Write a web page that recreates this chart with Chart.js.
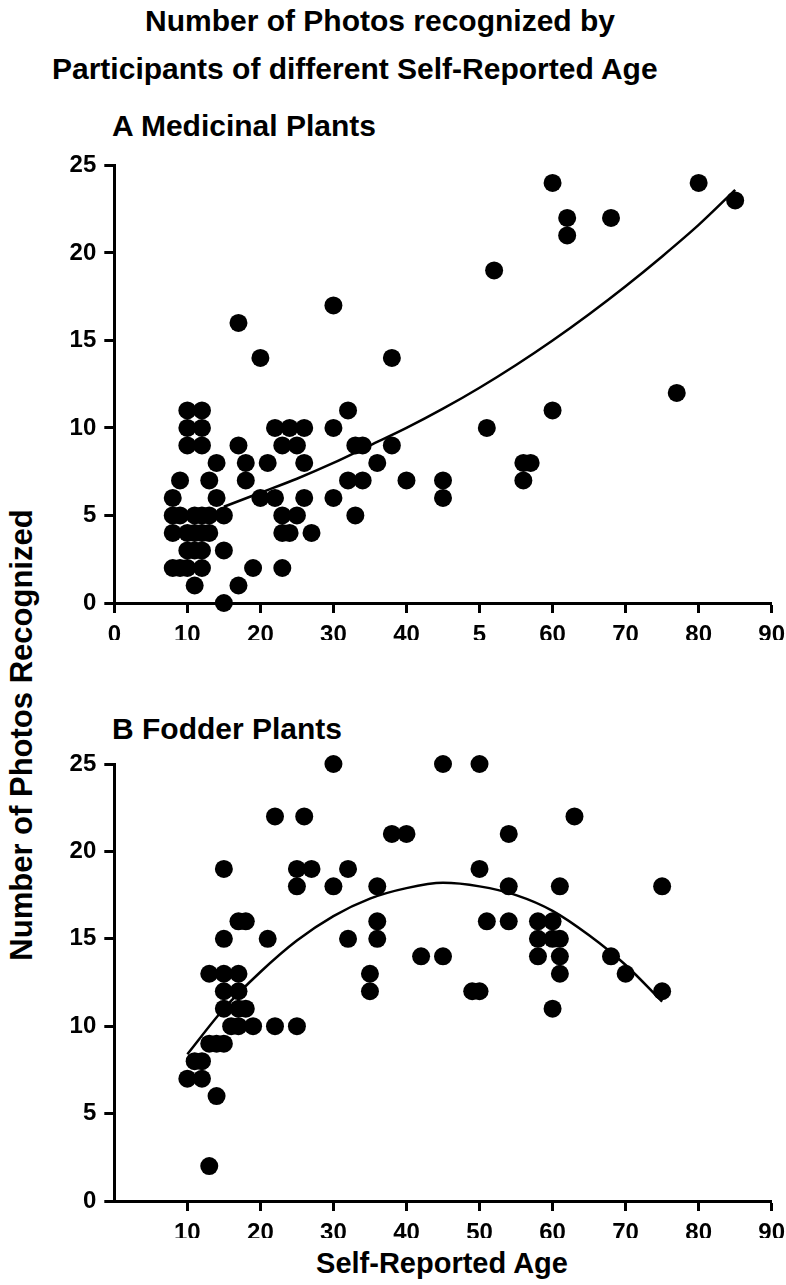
<!DOCTYPE html>
<html>
<head>
<meta charset="utf-8">
<script src="https://cdn.jsdelivr.net/npm/chart.js@4/dist/chart.umd.min.js"></script>
<style>
  body { margin: 0; background: #fff; width: 786px; height: 1285px; position: relative; overflow: hidden; }
  .txt { position: absolute; font-family: "Liberation Sans", Arial, sans-serif; font-weight: bold; color: #000; white-space: nowrap; line-height: 1; }
  canvas { position: absolute; }
</style>
</head>
<body>
<div class="txt" style="left:145px; top:6px; font-size:30px; line-height:30px;">Number of Photos recognized by</div>
<div class="txt" style="left:52px; top:54px; font-size:30px; line-height:30px;">Participants of different Self-Reported Age</div>
<div class="txt" style="left:112px; top:111px; font-size:30px; line-height:30px;">A Medicinal Plants</div>
<div class="txt" style="left:112px; top:714px; font-size:30px; line-height:30px;">B Fodder Plants</div>
<div class="txt" style="left:21px; top:735px; font-size:31px; line-height:31px; transform: translate(-50%,-50%) rotate(-90deg);">Number of Photos Recognized</div>
<div class="txt" style="left:442px; top:1249px; font-size:29px; line-height:29px; transform: translateX(-50%);">Self-Reported Age</div>

<canvas id="chartA" width="746" height="500" style="left:40px; top:140px;"></canvas>
<canvas id="chartB" width="746" height="498" style="left:40px; top:740px;"></canvas>

<script>
// A - medicinal plants
const ageA = [10, 12, 10, 12, 10, 12, 14, 9, 13, 8, 14,
  8, 9, 11, 12, 13, 15, 8, 10, 11, 12, 13, 10, 11, 12, 15,
  8, 9, 10, 12, 19, 23, 11, 17, 15,
  17, 30, 20, 38, 32, 22, 24, 26, 30, 17, 23, 25, 33, 34, 38,
  18, 21, 26, 36, 18, 32, 34, 40, 45, 20, 22, 26, 30, 45,
  23, 25, 33, 23, 24, 27,
  52, 60, 80, 85, 62, 68, 62, 77, 60, 51, 56, 57, 56];
const photosA = [11, 11, 10, 10, 9, 9, 8, 7, 7, 6, 6,
  5, 5, 5, 5, 5, 5, 4, 4, 4, 4, 4, 3, 3, 3, 3,
  2, 2, 2, 2, 2, 2, 1, 1, 0,
  16, 17, 14, 14, 11, 10, 10, 10, 10, 9, 9, 9, 9, 9, 9,
  8, 8, 8, 8, 7, 7, 7, 7, 7, 6, 6, 6, 6, 6,
  5, 5, 5, 4, 4, 4,
  19, 24, 24, 23, 22, 22, 21, 12, 11, 10, 8, 8, 7];
const fitAgeA = [15, 20, 25, 30, 35, 40, 45, 50, 55, 60, 65, 70, 75, 80, 85];
const fitA = [5.5, 6.3, 7.1, 8.0, 9.0, 10.0, 11.1, 12.3, 13.6, 15.0, 16.5, 18.1, 19.8, 21.6, 23.6];
const xTicksA = ['0', '10', '20', '30', '40', '5', '60', '70', '80', '90'];

// B - fodder plants
const ageB = [30, 45, 50, 22, 26, 63, 38, 40, 54, 15, 25, 27, 32, 50,
  25, 30, 36, 54, 61, 75, 17, 18, 36, 51, 54, 58, 60,
  15, 21, 32, 36, 58, 60, 61, 42, 45, 58, 61, 68,
  13, 15, 17, 35, 61, 70, 15, 17, 35, 49, 50, 75,
  15, 17, 18, 60, 16, 17, 19, 22, 25, 13, 14, 15, 11, 12, 10, 12, 14, 13];
const photosB = [25, 25, 25, 22, 22, 22, 21, 21, 21, 19, 19, 19, 19, 19,
  18, 18, 18, 18, 18, 18, 16, 16, 16, 16, 16, 16, 16,
  15, 15, 15, 15, 15, 15, 15, 14, 14, 14, 14, 14,
  13, 13, 13, 13, 13, 13, 12, 12, 12, 12, 12, 12,
  11, 11, 11, 11, 10, 10, 10, 10, 10, 9, 9, 9, 8, 8, 7, 7, 6, 2];
const fitAgeB = [10, 15, 20, 25, 30, 35, 40, 45, 50, 55, 60, 65, 70, 75];
const fitB = [8.4, 11.0, 13.1, 14.9, 16.3, 17.3, 17.9, 18.2, 18.0, 17.5, 16.6, 15.2, 13.5, 11.4];
const xTicksB = ['', '10', '20', '30', '40', '50', '60', '70', '80', '90'];

const yTicks = [0, 5, 10, 15, 20, 25];

const toPoints = (xs, ys) => xs.map((x, i) => ({ x: x, y: ys[i] }));

const tickFont = { family: "'Liberation Sans', Arial, sans-serif", size: 24, weight: 'bold' };

const makeChart = (id, ages, photos, fitAges, fitVals, xLabels, padTop, hideZero) => {
  const ctx = document.getElementById(id).getContext('2d');
  return new Chart(ctx, {
    type: 'scatter',
    data: {
      datasets: [
        {
          data: toPoints(ages, photos),
          backgroundColor: '#000',
          borderWidth: 0,
          pointRadius: 9,
          pointHoverRadius: 9,
          clip: false
        },
        {
          data: toPoints(fitAges, fitVals),
          showLine: true,
          borderColor: '#000',
          borderWidth: 2.5,
          pointRadius: 0,
          cubicInterpolationMode: 'monotone',
          clip: false
        }
      ]
    },
    options: {
      responsive: false,
      animation: false,
      devicePixelRatio: 1,
      layout: { padding: { top: padTop, right: 14.3, left: 0, bottom: 0 } },
      plugins: { legend: { display: false }, tooltip: { enabled: false } },
      scales: {
        x: {
          type: 'linear',
          min: 0,
          max: 90,
          afterBuildTicks: (scale) => {
            scale.ticks = [0, 10, 20, 30, 40, 50, 60, 70, 80, 90]
              .filter(v => !(hideZero && v === 0))
              .map(v => ({ value: v }));
          },
          afterFit: (scale) => {
            scale.height = 37;
            scale.paddingLeft = 0;
            scale.paddingRight = 0;
          },
          border: { display: true, color: '#000', width: 3 },
          grid: { display: true, drawOnChartArea: false, drawTicks: true, tickLength: 10, tickWidth: 3, tickColor: '#000' },
          ticks: {
            color: '#000',
            font: tickFont,
            padding: 8,
            maxRotation: 0,
            autoSkip: false,
            callback: (v) => xLabels[v / 10]
          }
        },
        y: {
          type: 'linear',
          min: 0,
          max: 25,
          afterBuildTicks: (scale) => { scale.ticks = yTicks.map(v => ({ value: v })); },
          afterFit: (scale) => { scale.width = 74.3; },
          border: { display: true, color: '#000', width: 3 },
          grid: { display: true, drawOnChartArea: false, drawTicks: true, tickLength: 10, tickWidth: 3, tickColor: '#000' },
          ticks: { color: '#000', font: tickFont, padding: 8, autoSkip: false }
        }
      }
    }
  });
};

makeChart('chartA', ageA, photosA, fitAgeA, fitA, xTicksA, 25.4, false);
makeChart('chartB', ageB, photosB, fitAgeB, fitB, xTicksB, 24, true);
</script>
</body>
</html>
